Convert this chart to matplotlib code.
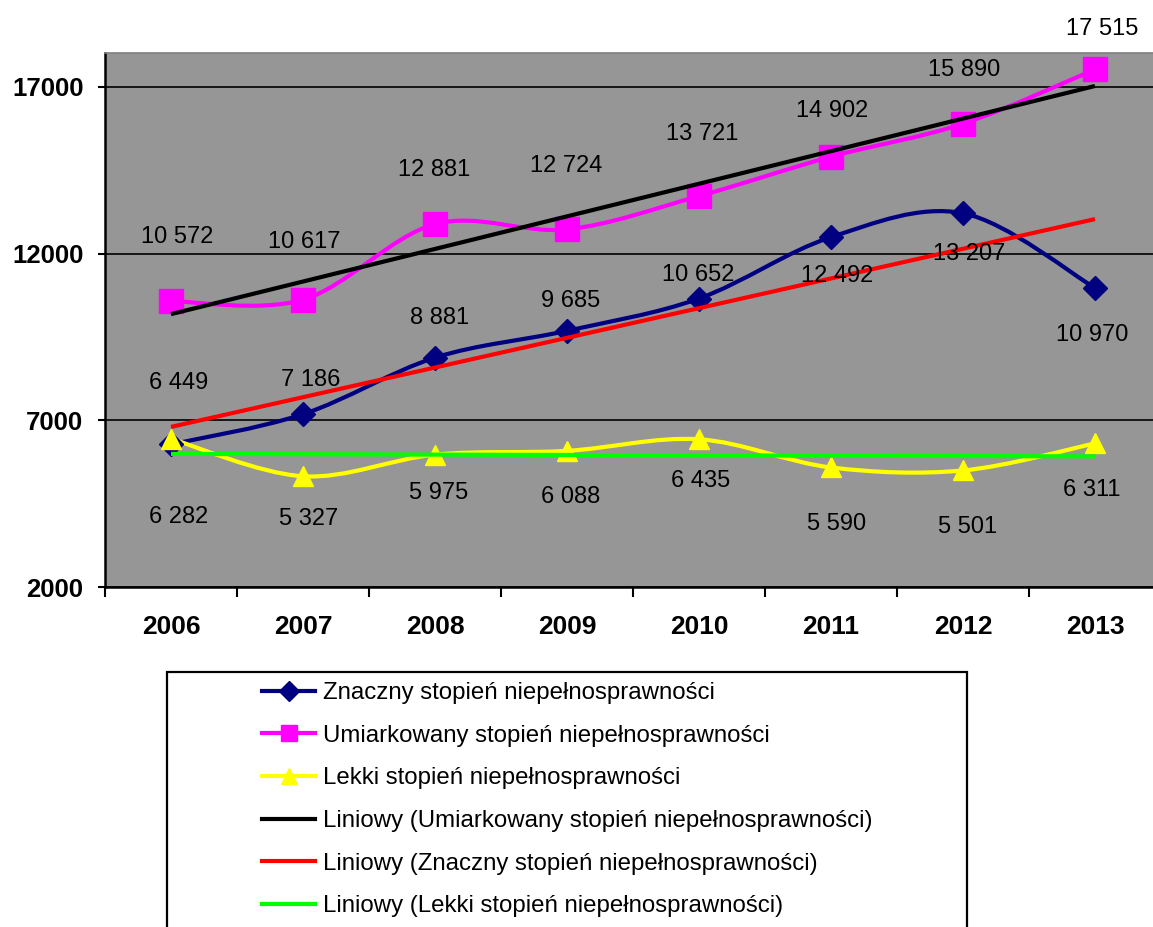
import numpy as np
import matplotlib
matplotlib.use("Agg")
import matplotlib.pyplot as plt
from matplotlib.path import Path
from matplotlib.patches import PathPatch, Rectangle
from matplotlib.lines import Line2D

plt.rcParams['font.family'] = ['Liberation Sans', 'DejaVu Sans']

# dane
years = ['2006', '2007', '2008', '2009', '2010', '2011', '2012', '2013']
znaczny = [6282, 7186, 8881, 9685, 10652, 12492, 13207, 10970]
umiarkowany = [10572, 10617, 12881, 12724, 13721, 14902, 15890, 17515]
lekki = [6449, 5327, 5975, 6088, 6435, 5590, 5501, 6311]

names = ['Znaczny stopień niepełnosprawności',
         'Umiarkowany stopień niepełnosprawności',
         'Lekki stopień niepełnosprawności']

# przesunięcia etykiet (piksele) - tylko styl
off_znaczny = [(8, 73), (8, -34), (5, -40), (4, -30), (-1, -24), (6, 39), (6, 41), (-3, 47)]
off_umiark = [(6, -64), (1, -58), (-1, -54), (-1, -63), (3, -62), (1, -46), (1, -54), (7, -40)]
off_lekki = [(8, -56), (6, 43), (4, 38), (4, 46), (2, 42), (6, 57), (5, 57), (-3, 47)]


def smooth_path(xs, ys):
    # wygładzona linia jak w Excelu (Catmull-Rom -> Bezier)
    pts = np.column_stack([xs, ys]).astype(float)
    n = len(pts)
    verts = [pts[0]]
    codes = [Path.MOVETO]
    for i in range(n - 1):
        p0 = pts[max(i - 1, 0)]
        p1 = pts[i]
        p2 = pts[i + 1]
        p3 = pts[min(i + 2, n - 1)]
        verts += [p1 + (p2 - p0) / 6, p2 - (p3 - p1) / 6, p2]
        codes += [Path.CURVE4] * 3
    return Path(verts, codes)


def fmt(v):
    return f"{v:,}".replace(",", " ")


W, H = 1153, 927
fig = plt.figure(figsize=(W / 100, H / 100), dpi=100)
ax = fig.add_axes([105 / W, 1 - 587.3 / H, (8 * 132) / W, (587.3 - 53.3) / H])
ax.set_facecolor('#969696')

x = np.arange(len(years))

series = [
    (znaczny, '#000080', 'D', 12, off_znaczny),
    (umiarkowany, '#ff00ff', 's', 17, off_umiark),
    (lekki, '#ffff00', '^', 15, off_lekki),
]

for vals, col, mk, ms, offs in series:
    ax.add_patch(PathPatch(smooth_path(x, vals), fill=False, edgecolor=col,
                           lw=3, zorder=3, capstyle='round'))
    ax.plot(x, vals, ls='none', marker=mk, ms=ms, color=col, zorder=4)
    for xi, v, (dx, dy) in zip(x, vals, offs):
        ax.annotate(fmt(v), (xi, v), xytext=(dx, -dy), textcoords='offset pixels',
                    ha='center', va='center', fontsize=17, color='black', zorder=6)

# linie trendu
trends = [(umiarkowany, 'black'), (znaczny, '#ff0000'), (lekki, '#00ff00')]
for vals, col in trends:
    a, b = np.polyfit(x, vals, 1)
    ax.plot(x, a * x + b, color=col, lw=3, zorder=5, solid_capstyle='butt')

ax.set_xlim(-0.5, 7.5)
ax.set_ylim(2000, 18000)
ax.set_yticks([2000, 7000, 12000, 17000])
ax.set_yticklabels(['2000', '7000', '12000', '17000'], fontsize=18.5, fontweight='bold')
ax.set_xticks(x)
ax.set_xticklabels(years, fontsize=19, fontweight='bold')
ax.set_xticks(np.arange(-0.5, 8, 1), minor=True)
ax.tick_params(axis='x', which='major', length=0, pad=20)
ax.tick_params(axis='x', which='minor', length=7, width=1.5, direction='out')
ax.tick_params(axis='y', length=5, width=1.5, direction='out', pad=10.5)
ax.yaxis.grid(True, color='black', lw=1.2, zorder=1)
ax.set_axisbelow(True)

for s in ['left', 'bottom']:
    ax.spines[s].set_linewidth(1.8)
    ax.spines[s].set_color('black')
ax.spines['top'].set_color('#808080')
ax.spines['top'].set_linewidth(1.2)
ax.spines['right'].set_visible(False)

# legenda
handles = [
    Line2D([], [], color='#000080', lw=3, marker='D', ms=10),
    Line2D([], [], color='#ff00ff', lw=3, marker='s', ms=12),
    Line2D([], [], color='#ffff00', lw=3, marker='^', ms=12),
    Line2D([], [], color='black', lw=3),
    Line2D([], [], color='#ff0000', lw=3),
    Line2D([], [], color='#00ff00', lw=3),
]
labels = names + ['Liniowy (Umiarkowany stopień niepełnosprawności)',
                  'Liniowy (Znaczny stopień niepełnosprawności)',
                  'Liniowy (Lekki stopień niepełnosprawności)']
fig.legend(handles, labels, loc='upper center', bbox_to_anchor=(567.5 / W, 1 - 682 / H),
           frameon=False, fontsize=17.3, handlelength=2.2, handletextpad=0.33,
           labelspacing=0.86, borderpad=0, borderaxespad=0)
fig.add_artist(Rectangle((167 / W, 1 - 940 / H), 800 / W, 268 / H,
                         transform=fig.transFigure, fill=False,
                         edgecolor='black', lw=1.6))

fig.savefig('out.png', dpi=100)
